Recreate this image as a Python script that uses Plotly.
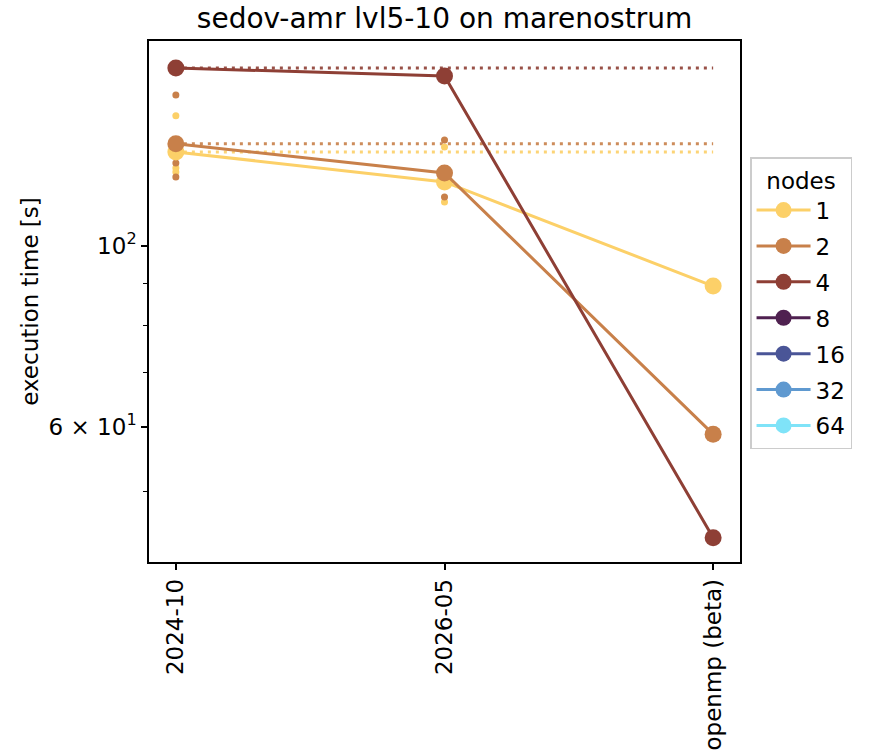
import plotly.graph_objects as go

categories = ["2024-10", "2026-05", "openmp (beta)"]
node_labels = ["1", "2", "4", "8", "16", "32", "64"]
colors = ["#fcd068", "#c8804a", "#8e3f35", "#4f2150", "#4a5597", "#5f99d0", "#7fe3f8"]

# best execution time per version (seconds)
best_times = {
    "1": [130.4, 119.8, 89.3],
    "2": [133.4, 122.9, 58.8],
    "4": [165.2, 161.6, 43.9],
    "8": [],
    "16": [],
    "32": [],
    "64": [],
}

# individual runs (small dots)
runs_x = {
    "1": ["2024-10", "2024-10", "2024-10", "2026-05", "2026-05"],
    "2": ["2024-10", "2024-10", "2024-10", "2026-05", "2026-05"],
}
runs_y = {
    "1": [144.4, 124.6, 123.2, 132.2, 113.2],
    "2": [153.1, 126.4, 121.5, 134.9, 114.8],
}

FONT = "DejaVu Sans"
fig = go.Figure()

# baseline dotted lines (2024-10 value carried across)
for lab, col in zip(node_labels, colors):
    vals = best_times[lab]
    if vals:
        fig.add_trace(go.Scatter(
            x=categories, y=[vals[0]] * len(categories), mode="lines",
            line=dict(color=col, width=3, dash="3px,5px"),
            opacity=0.9, showlegend=False, hoverinfo="skip"))

# individual runs
for lab, col in zip(node_labels, colors):
    if lab in runs_y:
        fig.add_trace(go.Scatter(
            x=runs_x[lab], y=runs_y[lab], mode="markers",
            marker=dict(color=col, size=7), opacity=1.0,
            showlegend=False, hoverinfo="skip"))

# main lines
for i, (lab, col) in enumerate(zip(node_labels, colors)):
    vals = best_times[lab]
    xs = categories[:len(vals)] if vals else [None]
    ys = vals if vals else [None]
    fig.add_trace(go.Scatter(
        x=xs, y=ys, mode="lines+markers", name=lab,
        line=dict(color=col, width=3),
        marker=dict(color=col, size=17),
        legendgroup=lab))

fig.update_layout(
    width=869, height=755,
    margin=dict(l=149, r=129, t=41, b=193),
    paper_bgcolor="white", plot_bgcolor="white",
    font=dict(family=FONT, size=23, color="black"),
    title=dict(text="sedov-amr lvl5-10 on marenostrum", x=(149 + 740) / 2 / 869,
               xanchor="center", y=1 - 18 / 755, yanchor="middle",
               font=dict(family=FONT, size=28, color="black")),
    showlegend=True,
    legend=dict(
        x=1.017, xanchor="left", y=0.777, yanchor="top",
        bordercolor="#cccccc", borderwidth=1.5, bgcolor="white",
        font=dict(family=FONT, size=23, color="black"),
        title=dict(text="nodes", side="top center", font=dict(family=FONT, size=23)),
        tracegroupgap=3, itemwidth=54,
    ),
)

fig.update_xaxes(
    type="category", categoryorder="array", categoryarray=categories,
    range=[-0.1, 2.1], tickangle=-90, automargin=False,
    showline=True, mirror=True, linecolor="black", linewidth=1.5,
    ticks="outside", ticklen=6, tickwidth=1.5, tickcolor="black",
    showgrid=False, zeroline=False,
    tickfont=dict(family=FONT, size=23),
)
fig.update_yaxes(
    type="log", range=[1.6127, 2.2512], automargin=False,
    tickmode="array", tickvals=[60, 100],
    ticktext=["6 × 10<sup>1</sup>", "10<sup>2</sup>"],
    minor=dict(tickmode="array", tickvals=[50, 70, 80, 90], ticklen=4,
               tickwidth=1.2, tickcolor="black", ticks="outside", showgrid=False),
    showline=True, mirror=True, linecolor="black", linewidth=1.5,
    ticks="outside", ticklen=6, tickwidth=1.5, tickcolor="black",
    showgrid=False, zeroline=False,
    title=dict(text="execution time [s]", font=dict(family=FONT, size=23), standoff=4),
    tickfont=dict(family=FONT, size=23),
)

fig.write_html("out.html")
